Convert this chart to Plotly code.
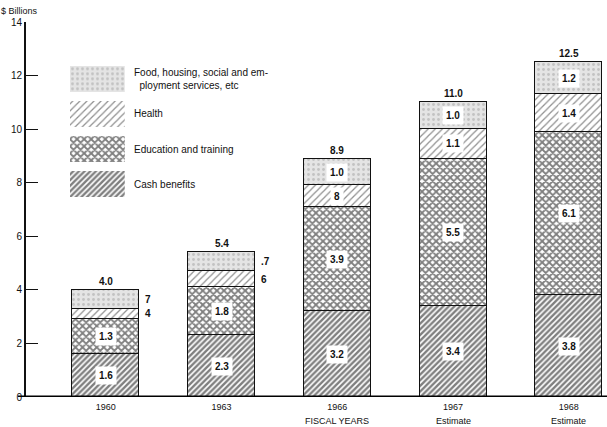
import plotly.graph_objects as go

years = ["1960", "1963", "1966", "1967", "1968"]
year_notes = ["", "", "FISCAL YEARS", "Estimate", "Estimate"]
cash = [1.6, 2.3, 3.2, 3.4, 3.8]
education = [1.3, 1.8, 3.9, 5.5, 6.1]
health = [0.4, 0.6, 0.8, 1.1, 1.4]
food = [0.7, 0.7, 1.0, 1.0, 1.2]
totals = [4.0, 5.4, 8.9, 11.0, 12.5]
cash_txt = ["1.6", "2.3", "3.2", "3.4", "3.8"]
edu_txt = ["1.3", "1.8", "3.9", "5.5", "6.1"]
health_txt = ["4", "6", "8", "1.1", "1.4"]
food_txt = ["7", ".7", "1.0", "1.0", "1.2"]
outside = [True, True, False, False, False]  # small-segment labels placed outside
series_names = ["Cash benefits", "Education and training", "Health",
                "Food, housing, social and em-<br>&nbsp;&nbsp;ployment services, etc"]
y_ticks = [0, 2, 4, 6, 8, 10, 12, 14]

FONT = "Liberation Sans, Arial, sans-serif"
styles = [
    dict(shape="/", fgcolor="#000000", bgcolor="#ffffff", size=4, solidity=0.6),
    dict(shape="x", fgcolor="#000000", bgcolor="#ffffff", size=5, solidity=0.6),
    dict(shape="/", fgcolor="#222222", bgcolor="#ffffff", size=5, solidity=0.25),
    dict(shape=".", fgcolor="#a0a0a0", bgcolor="#e4e4e4", size=5, solidity=0.25),
]
series = [cash, education, health, food]
xs = list(range(len(years)))

fig = go.Figure()
for vals, st, nm in zip(series, styles, series_names):
    fig.add_trace(go.Bar(
        x=xs, y=vals, width=0.58, name=nm, showlegend=False,
        marker=dict(color=st["bgcolor"], line=dict(color="#111", width=1.4),
                    pattern=dict(shape=st["shape"], fgcolor=st["fgcolor"],
                                 bgcolor=st["bgcolor"], size=st["size"],
                                 solidity=st["solidity"], fillmode="overlay")),
        hoverinfo="skip"))

annotations = []
lab_font = dict(family=FONT, size=10, color="#111")
for i in xs:
    base = 0
    for vals, txts, k in zip(series, [cash_txt, edu_txt, health_txt, food_txt], range(4)):
        mid = base + vals[i] / 2
        base += vals[i]
        if k >= 2 and outside[i]:
            annotations.append(dict(x=i, y=mid, xref="x", yref="y", text="<b>%s</b>" % txts[i],
                                    showarrow=False, xanchor="left", xshift=37,
                                    font=lab_font))
        else:
            annotations.append(dict(x=i, y=mid, xref="x", yref="y", text="<b>%s</b>" % txts[i],
                                    showarrow=False, bgcolor="#ffffff", borderpad=3,
                                    font=lab_font))
    annotations.append(dict(x=i, y=totals[i], xref="x", yref="y",
                            text="<b>%.1f</b>" % totals[i], showarrow=False,
                            yanchor="bottom", yshift=1, font=dict(family=FONT, size=10, color="#111")))
    if year_notes[i]:
        annotations.append(dict(x=i, y=-0.064, xref="x", yref="paper", text=year_notes[i],
                                showarrow=False, yanchor="middle",
                                font=dict(family=FONT, size=9, color="#111")))

# legend swatches drawn as a small bar chart on a second axis
for row, (st, nm) in enumerate(zip(styles, series_names)):
    fig.add_trace(go.Bar(
        x=[1], y=[row], orientation="h", width=0.74, xaxis="x2", yaxis="y2",
        showlegend=False, hoverinfo="skip",
        marker=dict(color=st["bgcolor"], line=dict(width=0),
                    pattern=dict(shape=st["shape"], fgcolor=st["fgcolor"],
                                 bgcolor=st["bgcolor"], size=st["size"],
                                 solidity=st["solidity"], fillmode="overlay"))))
    annotations.append(dict(x=1, y=row, xref="x2", yref="y2", text=nm, showarrow=False,
                            xanchor="left", xshift=7, align="left",
                            font=dict(family=FONT, size=10, color="#111")))

annotations.append(dict(x=-0.04, y=1.0, xref="paper", yref="paper", text="$ Billions",
                        showarrow=False, xanchor="left", yanchor="bottom", yshift=4, xshift=-4,
                        font=dict(family=FONT, size=9, color="#111")))

fig.update_layout(
    width=607, height=427,
    margin=dict(l=26, r=0, t=22, b=30),
    paper_bgcolor="white", plot_bgcolor="white",
    barmode="stack", bargap=0,
    font=dict(family=FONT, size=9, color="#111"),
    xaxis=dict(range=[-0.69, 4.33], tickvals=xs, ticktext=years, showgrid=False,
               zeroline=False, showline=False, ticks="", tickfont=dict(size=9),
               ticklabelstandoff=3, automargin=False),
    yaxis=dict(range=[0, 14], tickvals=y_ticks, showgrid=False, zeroline=False,
               showline=True, linecolor="#111", linewidth=2, ticks="inside",
               ticklen=12, tickcolor="#111", tickwidth=1, tickfont=dict(size=10),
               automargin=False),
    xaxis2=dict(domain=[0.0757, 0.170], range=[0, 1], visible=False, anchor="y2"),
    yaxis2=dict(domain=[0.521, 0.895], range=[-0.5, 3.5], visible=False, anchor="x2"),
    annotations=annotations,
    shapes=[dict(type="line", xref="paper", yref="y", x0=-0.014, x1=1, y0=0, y1=0,
                 line=dict(color="#000", width=3))],
)

fig.write_html("out.html", config={"displayModeBar": False},
               post_script="document.body.style.margin='0';")
